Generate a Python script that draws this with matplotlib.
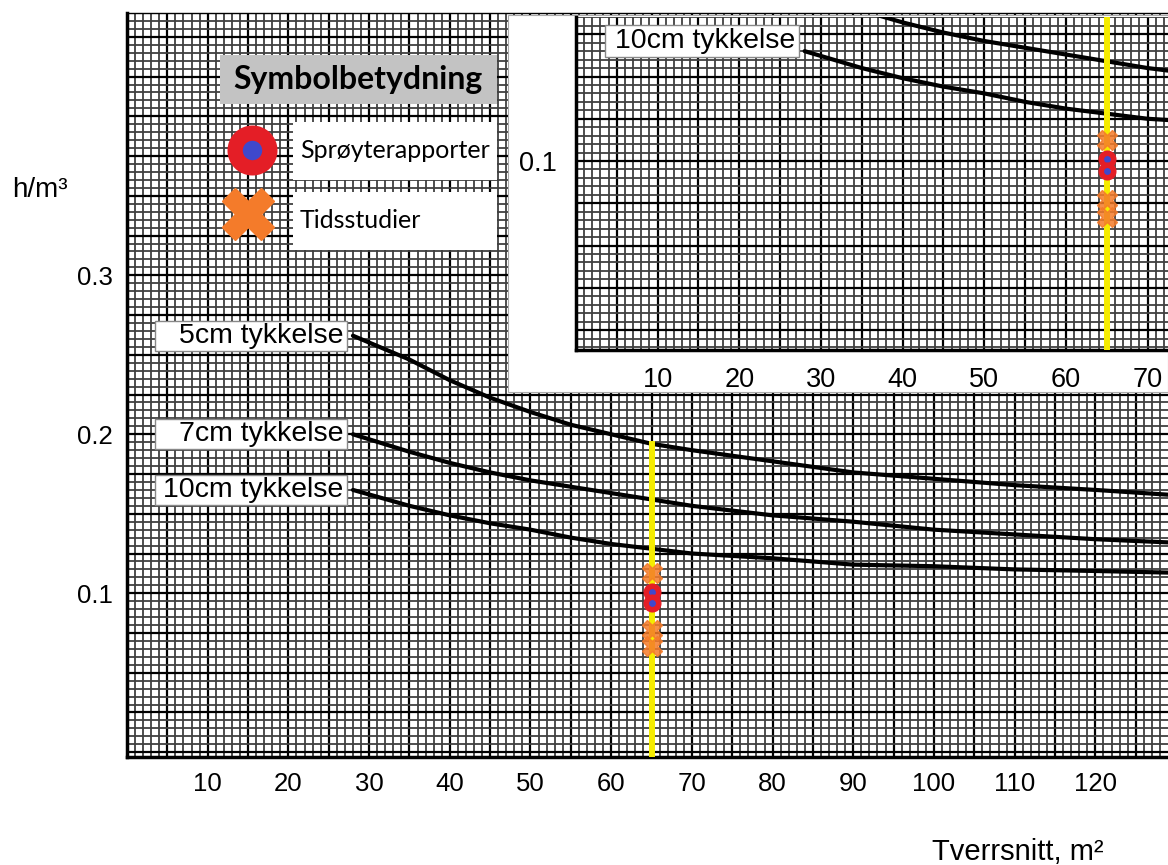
import numpy as np
import matplotlib.pyplot as plt
from matplotlib.patches import Rectangle
from matplotlib.lines import Line2D
from matplotlib.ticker import FuncFormatter

plt.rcParams['font.family'] = ['Liberation Sans', 'DejaVu Sans']

# kurvene lest av diagrammet (tverrsnitt m2 -> h/m3)
tverrsnitt = [28, 35, 40, 45, 50, 55, 60, 65, 70, 80, 90, 100, 110, 120, 129]
kurve_5cm = [0.262, 0.247, 0.234, 0.223, 0.214, 0.206, 0.200, 0.194, 0.190,
             0.183, 0.176, 0.172, 0.168, 0.165, 0.162]
kurve_7cm = [0.200, 0.189, 0.182, 0.176, 0.171, 0.167, 0.163, 0.159, 0.155,
             0.149, 0.145, 0.140, 0.137, 0.134, 0.132]
kurve_10cm = [0.165, 0.155, 0.149, 0.144, 0.140, 0.135, 0.131, 0.128, 0.125,
              0.122, 0.118, 0.117, 0.115, 0.114, 0.113]
kurve_navn = ['5cm tykkelse', '7cm tykkelse', '10cm tykkelse']

# maalinger
sproyte_x = [65, 65]
sproyte_y = [0.101, 0.094]
tid_x = [65, 65, 65]
tid_y = [0.1125, 0.077, 0.067]
gul_x = 65
gul_topp = 0.194

xticks_main = [10, 20, 30, 40, 50, 60, 70, 80, 90, 100, 110, 120]
yticks_main = [0.1, 0.2, 0.3]
xticks_inset = [10, 20, 30, 40, 50, 60, 70]
yticks_inset = [0.1]

W, H = 1168, 865
RED = '#e41e26'
BLUE = '#3f48cc'
ORANGE = '#f47b2a'
YELLOW = '#f5ec00'


def fx(px):
    return px / W


def fy(py):
    return 1 - py / H


def label_formatter(values):
    def f(v, pos):
        for t in values:
            if abs(v - t) < 1e-6:
                return f'{t:g}'
        return ''
    return FuncFormatter(f)


def grid_paper(ax, xlim, ylim, xlabels, ylabels):
    ax.set_xticks(np.arange(0, xlim[1], 5))
    ax.set_xticks(np.arange(0, xlim[1], 1), minor=True)
    ax.set_yticks(np.arange(-0.025, ylim[1], 0.025))
    ax.set_yticks(np.arange(-0.025, ylim[1], 0.005), minor=True)
    # set_ticks kan utvide aksene, saa grensene settes etterpaa
    ax.set_xlim(*xlim)
    ax.set_ylim(*ylim)
    ax.xaxis.set_major_formatter(label_formatter(xlabels))
    ax.yaxis.set_major_formatter(label_formatter(ylabels))
    ax.grid(which='minor', color='#404040', lw=1.3)
    ax.grid(which='major', color='black', lw=1.6)
    ax.tick_params(which='both', length=0, labelsize=18.5)
    ax.set_axisbelow(True)
    ax.spines['right'].set_visible(False)
    ax.spines['top'].set_linewidth(1.0)
    ax.spines['left'].set_linewidth(2.5)
    ax.spines['bottom'].set_linewidth(2.5)


def draw_data(ax, full_yellow):
    for k in (kurve_5cm, kurve_7cm, kurve_10cm):
        ax.plot(tverrsnitt, k, color='black', lw=3, zorder=3,
                solid_capstyle='round', solid_joinstyle='round')
    if full_yellow:
        ax.axvline(gul_x, color=YELLOW, lw=4.3, zorder=4)
    else:
        ax.plot([gul_x, gul_x], [ax.get_ylim()[0], gul_topp], color=YELLOW,
                lw=4.3, zorder=4)
    ax.plot(tid_x, tid_y, ls='none', marker='X', ms=15, color=ORANGE,
            alpha=0.85, zorder=4.5)
    ax.plot(sproyte_x, sproyte_y, ls='none', marker='o', ms=9, mew=4,
            mfc=BLUE, mec=RED, zorder=5)


def curve_label(ax, y0, text):
    ax.add_patch(Rectangle((3.5, y0 - 0.0095), 23.8, 0.019, fc='white',
                           ec='#888888', lw=1, zorder=6))
    ax.text(26.8, y0, text, ha='right', va='center', fontsize=20.5, zorder=7)


fig = plt.figure(figsize=(W / 100, H / 100), dpi=100)

# hoveddiagram
ax = fig.add_axes([fx(127), fy(757), fx(W - 127), (757 - 13) / H])
grid_paper(ax, (0, 129), (-0.003, 0.465), xticks_main, yticks_main)
ax.tick_params(axis='x', pad=11)
ax.tick_params(axis='y', pad=10)
draw_data(ax, False)
for k, navn in zip((kurve_5cm, kurve_7cm, kurve_10cm), kurve_navn):
    curve_label(ax, k[0], navn)

fig.text(fx(12), fy(190), 'h/m³', ha='left', va='center', fontsize=20)
fig.text(fx(1018), fy(852), 'Tverrsnitt, m²', ha='center', va='center',
         fontsize=21)

# symbolforklaring
fig.add_artist(Rectangle((fx(220), fy(104)), fx(277), 49 / H,
                         transform=fig.transFigure, fc='#c3c3c3', ec='none',
                         zorder=1))
fig.text(fx(358), fy(80), 'Symbolbetydning', ha='center', va='center',
         fontsize=23, fontweight='bold', family='Lato', zorder=2)
for top, txt in ((122, 'Sprøyterapporter'), (192, 'Tidsstudier')):
    fig.add_artist(Rectangle((fx(293), fy(top + 58)), fx(204), 58 / H,
                             transform=fig.transFigure, fc='white', ec='none',
                             zorder=1))
    fig.text(fx(300), fy(top + 28), txt, ha='left', va='center', fontsize=18,
             family='Lato', zorder=2)
fig.add_artist(Line2D([fx(252)], [fy(150)], marker='o', ms=25, mew=11,
                      mfc=BLUE, mec=RED, transform=fig.transFigure, zorder=2))
fig.add_artist(Line2D([fx(248)], [fy(214)], marker='X', ms=38, color=ORANGE,
                      transform=fig.transFigure, zorder=2))

# innfelt utsnitt
fig.add_artist(Rectangle((fx(508), fy(392)), fx(660), 377 / H,
                         transform=fig.transFigure, fc='white', ec='#aaaaaa',
                         lw=0.8, zorder=1))
axi = fig.add_axes([fx(576), fy(350), fx(W - 576), (350 - 17) / H])
axi.set_zorder(3)
grid_paper(axi, (0, 72.5), (-0.0118, 0.1852), xticks_inset, yticks_inset)
axi.tick_params(axis='x', pad=12, labelsize=19.5)
axi.tick_params(axis='y', pad=14, labelsize=19.5)
axi.spines['top'].set_visible(False)
draw_data(axi, True)
curve_label(axi, 0.171, kurve_navn[2])

fig.savefig('out.png', dpi=100)
